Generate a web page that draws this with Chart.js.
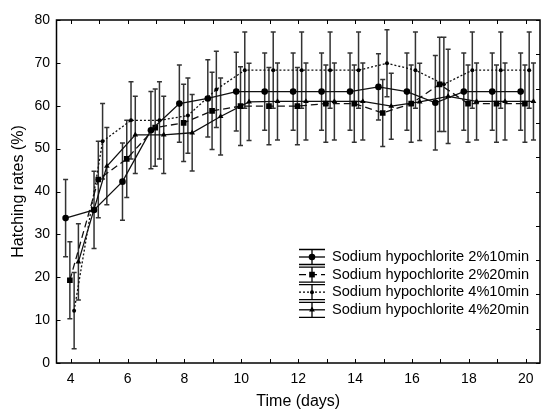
<!DOCTYPE html>
<html>
<head>
<meta charset="utf-8">
<script src="https://cdn.jsdelivr.net/npm/chart.js@4.4.1/dist/chart.umd.min.js"></script>
<style>
    html, body { margin: 0; padding: 0; background: #fff; }
    #wrap { width: 544px; height: 412px; }
</style>
</head>
<body>
<div id="wrap"><canvas id="chart" width="544" height="412"></canvas></div>
<script>
// days of observation
const days = [4, 5, 6, 7, 8, 9, 10, 11, 12, 13, 14, 15, 16, 17, 18, 19, 20];

// hatching rates (%)
const naocl2_10 = [33.8, 35.7, 42.3, 54.3, 60.5, 61.7, 63.3, 63.3, 63.3, 63.3, 63.3, 64.4, 63.3, 60.7, 63.3, 63.3, 63.3];
const naocl2_20 = [19.3, 42.8, 47.6, 54.9, 56.0, 58.8, 59.9, 59.9, 59.9, 60.5, 60.5, 58.3, 60.5, 65.0, 60.5, 60.5, 60.5];
const naocl4_10 = [12.2, 51.7, 56.6, 56.6, 57.7, 63.8, 68.3, 68.3, 68.3, 68.3, 68.3, 69.9, 68.3, 65.0, 68.3, 68.3, 68.3];
const naocl4_20 = [23.6, 45.9, 53.2, 53.2, 53.7, 57.5, 60.9, 61.0, 61.0, 61.0, 61.0, 59.9, 60.9, 62.2, 61.0, 61.0, 61.0];

// error bar half-lengths
const err2_10 = [9, 9, 9, 9, 9, 9, 9.2, 9, 9, 9, 9, 7.7, 9, 11, 9, 9, 9];
const err2_20 = [9, 8.9, 9, 9, 9, 9, 9.2, 9, 9, 9, 9, 7.8, 9, 11, 9, 9, 9];
const err4_10 = [8.9, 8.8, 9, 9, 8.8, 8.9, 8.9, 8.9, 8.9, 8.9, 8.9, 7.8, 8.9, 11, 8.9, 8.9, 8.9];
const err4_20 = [8.9, 9, 9, 9, 8.9, 9, 9, 9, 9, 9, 9, 7.7, 9, 11, 9, 9, 9];

const seriesNames = [
    'Sodium hypochlorite 2%10min',
    'Sodium hypochlorite 2%20min',
    'Sodium hypochlorite 4%10min',
    'Sodium hypochlorite 4%20min'
];

const xTickLabels = [4, 6, 8, 10, 12, 14, 16, 18, 20];
const yTickLabels = [0, 10, 20, 30, 40, 50, 60, 70, 80];

const FONT = '"Liberation Sans", Arial, sans-serif';

// points are drawn slightly side by side, like the original figure
const toPoints = (vals, errs, dodge) => vals.map((v, i) => ({ x: days[i] + dodge, y: v, err: errs[i] }));

const styles = [
    { dodge: -0.18, dash: [], point: 'circle', radius: 3.3 },
    { dodge: -0.03, dash: [7, 4], point: 'rect', radius: 4 },
    { dodge: 0.12, dash: [2, 2], point: 'circle', radius: 2 },
    { dodge: 0.27, dash: [], point: 'triangle', radius: 3.3 }
];

const values = [naocl2_10, naocl2_20, naocl4_10, naocl4_20];
const errors = [err2_10, err2_20, err4_10, err4_20];

const datasets = values.map((vals, i) => ({
    label: seriesNames[i],
    data: toPoints(vals, errors[i], styles[i].dodge),
    showLine: true,
    borderColor: '#111',
    backgroundColor: '#111',
    borderWidth: 1.3,
    borderDash: styles[i].dash,
    pointStyle: styles[i].point,
    pointRadius: styles[i].radius,
    pointBorderWidth: 0,
    pointBackgroundColor: '#000',
    tension: 0
}));

const errorBars = {
    id: 'errorBars',
    beforeDatasetsDraw(chart) {
        const { ctx, scales: { x, y } } = chart;
        ctx.save();
        ctx.strokeStyle = '#333';
        ctx.lineWidth = 1.5;
        chart.data.datasets.forEach(ds => {
            ds.data.forEach(p => {
                const px = x.getPixelForValue(p.x);
                const top = y.getPixelForValue(p.y + p.err);
                const bot = y.getPixelForValue(p.y - p.err);
                ctx.beginPath();
                ctx.moveTo(px, top); ctx.lineTo(px, bot);
                ctx.moveTo(px - 2.5, top); ctx.lineTo(px + 2.5, top);
                ctx.moveTo(px - 2.5, bot); ctx.lineTo(px + 2.5, bot);
                ctx.stroke();
            });
        });
        ctx.restore();
    }
};

// box frame with inward ticks on all four sides
const frame = {
    id: 'frame',
    afterDraw(chart) {
        const { ctx, chartArea: a, scales: { x, y } } = chart;
        ctx.save();
        ctx.strokeStyle = '#000';
        ctx.lineWidth = 1.5;
        ctx.strokeRect(a.left, a.top, a.right - a.left, a.bottom - a.top);
        ctx.lineWidth = 1;
        ctx.beginPath();
        days.forEach(d => {
            const px = Math.round(x.getPixelForValue(d)) + 0.5;
            ctx.moveTo(px, a.bottom); ctx.lineTo(px, a.bottom - 4);
            ctx.moveTo(px, a.top); ctx.lineTo(px, a.top + 4);
        });
        yTickLabels.forEach(v => {
            const py = Math.round(y.getPixelForValue(v)) + 0.5;
            ctx.moveTo(a.left, py); ctx.lineTo(a.left + 4, py);
        });
        for (let v = 0; v <= 80; v += 8) {
            const py = Math.round(y.getPixelForValue(v)) + 0.5;
            ctx.moveTo(a.right, py); ctx.lineTo(a.right - 4, py);
        }
        ctx.stroke();
        ctx.restore();
    }
};

const legendBox = {
    id: 'legendBox',
    afterDraw(chart) {
        const { ctx } = chart;
        const x0 = 299, x1 = 325, tx = 332;
        ctx.save();
        chart.data.datasets.forEach((ds, i) => {
            const cy = 257 + i * 17.6;
            const cx = (x0 + x1) / 2;
            ctx.strokeStyle = '#000';
            ctx.lineWidth = 1.3;
            ctx.setLineDash([]);
            ctx.beginPath();
            ctx.moveTo(x0, cy - 7.5); ctx.lineTo(x1, cy - 7.5);
            ctx.moveTo(x0, cy + 7.5); ctx.lineTo(x1, cy + 7.5);
            ctx.moveTo(cx, cy - 7.5); ctx.lineTo(cx, cy + 7.5);
            ctx.stroke();
            ctx.setLineDash(ds.borderDash);
            ctx.beginPath();
            ctx.moveTo(x0, cy); ctx.lineTo(x1, cy);
            ctx.stroke();
            ctx.setLineDash([]);
            ctx.fillStyle = '#000';
            Chart.helpers.drawPoint(ctx, {
                pointStyle: ds.pointStyle, radius: ds.pointRadius, borderWidth: 0
            }, cx, cy);
            ctx.fillStyle = '#000';
            ctx.font = '14.6px ' + FONT;
            ctx.textBaseline = 'middle';
            ctx.textAlign = 'left';
            ctx.fillText(ds.label, tx, cy);
        });
        ctx.restore();
    }
};

new Chart(document.getElementById('chart'), {
    type: 'scatter',
    data: { datasets },
    options: {
        responsive: false,
        animation: false,
        layout: { padding: { top: 20, right: 3.5, left: 0, bottom: 0 } },
        plugins: {
            legend: { display: false },
            tooltip: { enabled: false }
        },
        scales: {
            x: {
                type: 'linear',
                min: 3.5,
                max: 20.5,
                afterFit: (scale) => { scale.height = 49; },
                afterBuildTicks: (scale) => { scale.ticks = xTickLabels.map(v => ({ value: v })); },
                grid: { display: false, drawTicks: false },
                border: { display: false },
                ticks: {
                    autoSkip: false,
                    maxRotation: 0,
                    padding: 8,
                    color: '#000',
                    font: { family: FONT, size: 14 }
                },
                title: {
                    display: true,
                    text: 'Time (days)',
                    color: '#000',
                    font: { family: FONT, size: 16 },
                    padding: { top: 0, bottom: 0.5 }
                }
            },
            y: {
                min: 0,
                max: 80,
                afterFit: (scale) => { scale.width = 56.5; },
                afterBuildTicks: (scale) => { scale.ticks = yTickLabels.map(v => ({ value: v })); },
                grid: { display: false, drawTicks: false },
                border: { display: false },
                ticks: {
                    padding: 6.5,
                    color: '#000',
                    font: { family: FONT, size: 14 }
                },
                title: {
                    display: true,
                    text: 'Hatching rates (%)',
                    color: '#000',
                    font: { family: FONT, size: 16 },
                    padding: { top: 9.4, bottom: 0 }
                }
            }
        }
    },
    plugins: [errorBars, frame, legendBox]
});
</script>
</body>
</html>
